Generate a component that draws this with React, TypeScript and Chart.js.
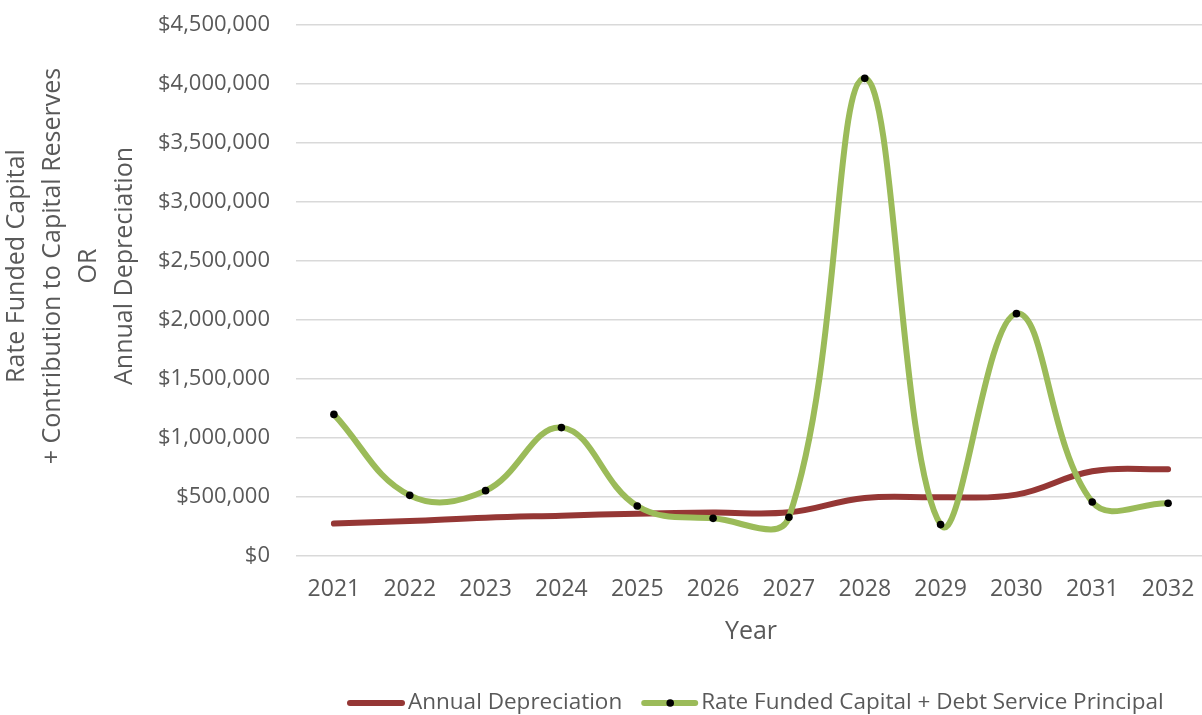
import React, { useEffect, useRef } from 'react';
import { Chart, registerables } from 'chart.js';

Chart.register(...registerables);

const years = ['2021', '2022', '2023', '2024', '2025', '2026', '2027', '2028', '2029', '2030', '2031', '2032'];
const annualDepreciation = [275000, 297000, 325000, 342000, 359000, 368000, 370000, 492000, 498000, 520000, 718000, 735000];
const rateFundedCapital = [1200000, 514000, 554000, 1088000, 424000, 319000, 328000, 4048000, 266000, 2054000, 458000, 447000];
const yTickValues = [0, 500000, 1000000, 1500000, 2000000, 2500000, 3000000, 3500000, 4000000, 4500000];
const yTitleLines = ['Rate Funded Capital', '+ Contribution to Capital Reserves', 'OR', 'Annual Depreciation'];
const xTitle = 'Year';
const seriesNames = ['Annual Depreciation', 'Rate Funded Capital + Debt Service Principal'];

const RED = '#953735';
const GREEN = '#9BBB59';
const TEXT = '#595959';
const FONT = '"Open Sans", "Noto Sans", sans-serif';

export default function App() {
  const ref = useRef<HTMLCanvasElement>(null);

  useEffect(() => {
    const canvas = ref.current;
    if (!canvas) return;

    const overlay = {
      id: 'overlay',
      afterDraw(chart: any) {
        const ctx = chart.ctx as CanvasRenderingContext2D;
        const area = chart.chartArea;
        ctx.save();
        ctx.fillStyle = TEXT;
        // Y axis title (rotated, multi-line)
        ctx.font = `25px ${FONT}`;
        ctx.textAlign = 'center';
        ctx.textBaseline = 'middle';
        const yCenter = 266;
        const xs = [17, 53, 89, 125];
        yTitleLines.forEach((line, i) => {
          ctx.save();
          ctx.translate(xs[i], yCenter);
          ctx.rotate(-Math.PI / 2);
          ctx.fillText(line, 0, 0);
          ctx.restore();
        });
        // X axis title
        ctx.fillText(xTitle, (area.left + area.right) / 2, 632);

        // Legend
        const ly = 703;
        ctx.font = `22.5px ${FONT}`;
        ctx.textAlign = 'left';
        ctx.lineCap = 'round';
        ctx.lineWidth = 6;
        let x = 350;
        ctx.strokeStyle = RED;
        ctx.beginPath();
        ctx.moveTo(x, ly);
        ctx.lineTo(x + 52, ly);
        ctx.stroke();
        x += 58;
        ctx.fillText(seriesNames[0], x, ly);
        x += ctx.measureText(seriesNames[0]).width + 19;
        ctx.strokeStyle = GREEN;
        ctx.beginPath();
        ctx.moveTo(x + 3, ly);
        ctx.lineTo(x + 54, ly);
        ctx.stroke();
        ctx.fillStyle = '#000';
        ctx.beginPath();
        ctx.arc(x + 29, ly, 3.8, 0, Math.PI * 2);
        ctx.fill();
        ctx.fillStyle = TEXT;
        x += 60;
        ctx.fillText(seriesNames[1], x, ly);
        ctx.restore();
      },
    };

    const chart = new Chart(canvas, {
      type: 'line',
      data: {
        labels: years,
        datasets: [
          {
            label: seriesNames[0],
            data: annualDepreciation,
            borderColor: RED,
            backgroundColor: RED,
            borderWidth: 6,
            pointRadius: 0,
            tension: 0.4,
            order: 1,
            borderCapStyle: 'round',
            borderJoinStyle: 'round',
            fill: false,
          },
          {
            label: seriesNames[1],
            data: rateFundedCapital,
            borderColor: GREEN,
            backgroundColor: '#000',
            borderWidth: 6,
            pointRadius: 3.8,
            pointBackgroundColor: '#000',
            pointBorderWidth: 0,
            tension: 0.4,
            order: 0,
            borderCapStyle: 'round',
            borderJoinStyle: 'round',
            fill: false,
          },
        ],
      } as any,
      options: {
        responsive: false,
        animation: false,
        layout: { padding: { top: 25, left: 0, right: 0, bottom: 0 } },
        plugins: {
          legend: { display: false },
          tooltip: { enabled: false },
        },
        scales: {
          x: {
            offset: true,
            grid: { display: false, drawTicks: false, offset: true },
            border: { display: false },
            ticks: {
              color: TEXT,
              font: { family: FONT, size: 23 },
              padding: 20,
              maxRotation: 0,
              autoSkip: false,
            },
            afterFit(s: any) {
              s.height = 159;
              s.paddingLeft = 0;
              s.paddingRight = 0;
            },
          },
          y: {
            min: 0,
            max: 4500000,
            afterBuildTicks(s: any) {
              s.ticks = yTickValues.map((v) => ({ value: v }));
            },
            grid: { color: '#d9d9d9', lineWidth: 1.5, drawTicks: false },
            border: { display: false },
            ticks: {
              color: TEXT,
              font: { family: FONT, size: 22 },
              padding: 26,
              callback: (v: any) => '$' + Number(v).toLocaleString('en-US'),
            },
            afterFit(s: any) {
              s.width = 296;
              s.paddingTop = 0;
              s.paddingBottom = 0;
            },
          },
        },
      } as any,
      plugins: [overlay],
    });

    return () => chart.destroy();
  }, []);

  return (
    <div style={{ position: 'fixed', left: 0, top: 0, width: 1202, height: 715, overflow: 'hidden', background: '#fff' }}>
      <canvas ref={ref} width={1210} height={715} style={{ display: 'block', width: 1210, height: 715 }} />
    </div>
  );
}
